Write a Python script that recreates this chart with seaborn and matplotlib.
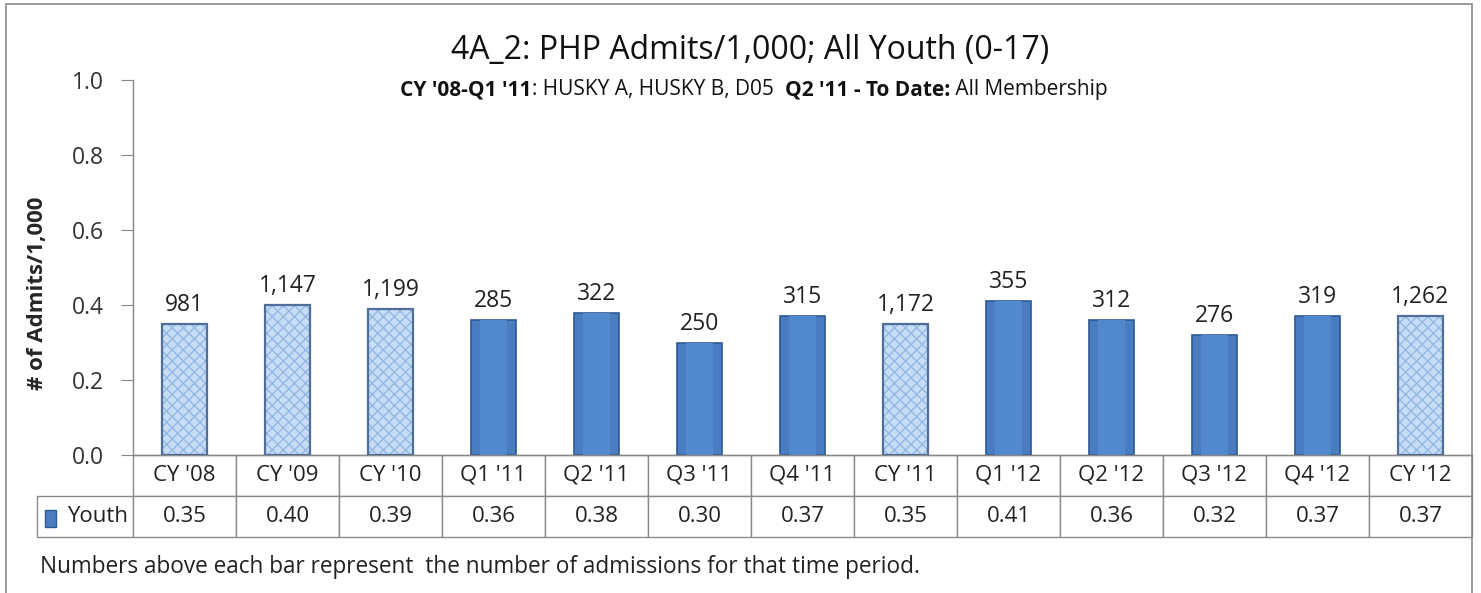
import numpy as np
import pandas as pd
import matplotlib.pyplot as plt
from matplotlib.patches import Rectangle
import seaborn as sns

periods = ["CY '08", "CY '09", "CY '10", "Q1 '11", "Q2 '11", "Q3 '11", "Q4 '11",
           "CY '11", "Q1 '12", "Q2 '12", "Q3 '12", "Q4 '12", "CY '12"]
rates = [0.35, 0.40, 0.39, 0.36, 0.38, 0.30, 0.37, 0.35, 0.41, 0.36, 0.32, 0.37, 0.37]
admits = [981, 1147, 1199, 285, 322, 250, 315, 1172, 355, 312, 276, 319, 1262]
kinds = ['year', 'year', 'year', 'qtr', 'qtr', 'qtr', 'qtr',
         'year', 'qtr', 'qtr', 'qtr', 'qtr', 'year']

df = pd.DataFrame({'period': periods, 'rate': rates, 'admits': admits, 'kind': kinds})

sns.set_style('white')
plt.rcParams['font.family'] = ['Open Sans', 'DejaVu Sans']

W, H = 1481, 593
fig = plt.figure(figsize=(W / 100, H / 100), dpi=100)
ax = fig.add_axes([133 / W, 1 - 455 / H, (1472 - 133) / W, (455 - 80) / H])

solid = '#4a7cc2'
light = '#c6ddf5'
colors = [light if k == 'year' else solid for k in kinds]

sns.barplot(data=df, x='period', y='rate', hue='period', palette=colors,
            width=0.44, legend=False, ax=ax, saturation=1)

for patch, k in zip(ax.patches, kinds):
    x, y = patch.get_x(), patch.get_y()
    w, h = patch.get_width(), patch.get_height()
    if k == 'year':
        patch.set_hatch('xxx')
        patch.set_edgecolor('#94b8e4')
        patch.set_linewidth(0)
        ax.add_patch(Rectangle((x, y), w, h, facecolor='none',
                               edgecolor='#4f6f99', lw=1.6, zorder=3))
    else:
        patch.set_edgecolor('#2d5a94')
        patch.set_linewidth(1.2)
        # lighter centre strip for a bit of the 3d look
        ax.add_patch(Rectangle((x + w * 0.2, y), w * 0.6, h, facecolor='#5288cc',
                               edgecolor='none', zorder=3))

for cont, n in zip(ax.containers, admits):
    ax.bar_label(cont, labels=[f'{n:,}'], padding=5, fontsize=16.5, color='#222222')

ax.set_ylim(0, 1.0)
ax.set_yticks(np.arange(0, 1.01, 0.2))
ax.set_yticklabels([f'{v:.1f}' for v in np.arange(0, 1.01, 0.2)], fontsize=16.5, color='#333333')
ax.tick_params(axis='y', direction='out', length=9, color='#888888', left=True, pad=12)
ax.set_xticks([])
ax.set_xlabel('')
ax.set_ylabel('# of Admits/1,000', fontsize=16, fontweight='bold')
ax.yaxis.set_label_coords(-(133 - 48) / (1472 - 133), (455 - 293) / (455 - 80))
for s in ['top', 'right']:
    ax.spines[s].set_visible(False)
for s in ['left', 'bottom']:
    ax.spines[s].set_color('#888888')
    ax.spines[s].set_linewidth(1)

# data table under the bars
lab_w = (133 - 37) / (1472 - 133)
tab_h = (537 - 455) / (455 - 80)
cell_text = [[''] + periods, ['Youth'] + [f'{v:.2f}' for v in rates]]
tab = ax.table(cellText=cell_text, colWidths=[lab_w] + [1 / 13] * 13,
               cellLoc='center', bbox=[-lab_w, -tab_h, 1 + lab_w, tab_h])
tab.auto_set_font_size(False)
tab.set_fontsize(16)
for (r, c), cell in tab.get_celld().items():
    cell.set_edgecolor('#8a8a8a')
    cell.set_linewidth(1)
    cell.get_text().set_color('#222222')
    if r == 0 and c == 0:
        cell.set_visible(False)
    if r == 1 and c == 0:
        cell.get_text().set_ha('right')
        cell._loc = 'right'
        cell.PAD = 0.05

# legend key in the table
ax.add_patch(Rectangle((-lab_w + 0.006, -tab_h + 0.028), 0.0085, 0.045,
                       transform=ax.transAxes, facecolor=solid, edgecolor='#2d5a94',
                       lw=1, clip_on=False))

fig.text(0.5 + 10 / W, 1 - 50 / H, '4A_2: PHP Admits/1,000; All Youth (0-17)',
         ha='center', va='center', fontsize=23, color='#111111')

# subtitle built from bold / normal pieces
pieces = [("CY '08-Q1 '11", 'bold'), (': HUSKY A, HUSKY B, D05  ', 'normal'),
          ("Q2 '11 - To Date:", 'bold'), (' All Membership', 'normal')]
fig.canvas.draw()
r = fig.canvas.get_renderer()
txts = []
for s, wgt in pieces:
    t = fig.text(0, 1 - 90 / H, s, fontsize=15, fontweight=wgt, va='center',
                 ha='left', color='#111111')
    txts.append(t)
total = sum(t.get_window_extent(r).width for t in txts)
x0 = (754 - total / 2) / W
for t in txts:
    t.set_x(x0)
    x0 += t.get_window_extent(r).width / W

fig.text(40 / W, 1 - 567 / H,
         'Numbers above each bar represent  the number of admissions for that time period.',
         fontsize=16.3, va='center', color='#222222')

fig.patches.append(Rectangle((6 / W, -0.02), (1472 - 6) / W, 1.02 - 4 / H,
                             transform=fig.transFigure, facecolor='none',
                             edgecolor='#8a8a8a', lw=1.2))

fig.savefig('out.png', dpi=100, facecolor='white')
